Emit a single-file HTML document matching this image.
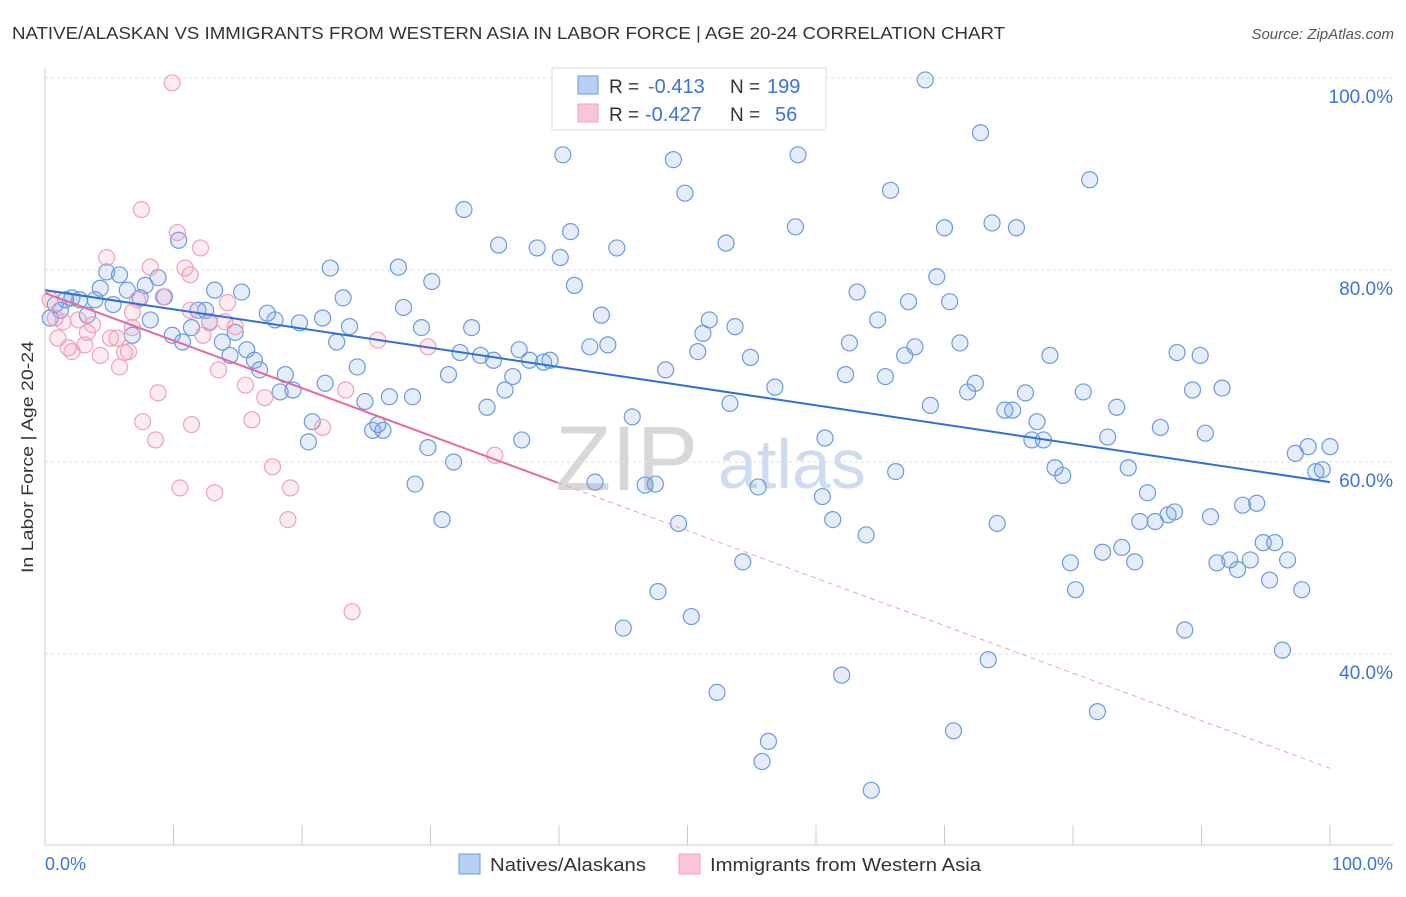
<!DOCTYPE html>
<html><head><meta charset="utf-8">
<style>
body{margin:0;background:#fff;font-family:"Liberation Sans",sans-serif;}
svg text{font-family:"Liberation Sans",sans-serif;}
</style></head>
<body>
<svg id="chart" width="1406" height="892" xmlns="http://www.w3.org/2000/svg">
<text x="12" y="39" font-size="17.5" fill="#333" textLength="993" lengthAdjust="spacingAndGlyphs">NATIVE/ALASKAN VS IMMIGRANTS FROM WESTERN ASIA IN LABOR FORCE | AGE 20-24 CORRELATION CHART</text>
<text x="1394" y="39" font-size="15" fill="#555" text-anchor="end" font-style="italic">Source: ZipAtlas.com</text>
<g>
<text x="555" y="490" font-size="92" font-family="Liberation Serif" fill="#d8d8d8" >ZIP</text>
<text x="718" y="488" font-size="70" fill="#cfdcf0">atlas</text>
</g>
<g id="grid"></g>
<line x1="45" y1="68" x2="45" y2="845" stroke="#ccc"/>
<line x1="45" y1="845" x2="1393" y2="845" stroke="#ccc"/>
<g id="ticks"></g>
<text transform="translate(33,457) rotate(-90)" font-size="17" fill="#333" text-anchor="middle" textLength="232" lengthAdjust="spacingAndGlyphs">In Labor Force | Age 20-24</text>
<text x="45" y="870" font-size="18" fill="#3b74d6">0.0%</text>
<text x="1393" y="870" font-size="18" fill="#3b74d6" text-anchor="end">100.0%</text>
<g id="pts"></g>
<g id="fits"></g>
<g>
<rect x="552" y="68" width="274" height="62" fill="#fff" stroke="#ddd"/>
<rect x="578" y="76" width="20" height="18" fill="#b8d0f4" stroke="#6a9be0"/>
<rect x="578" y="104" width="20" height="18" fill="#f8c6d6" stroke="#f0a0bc"/>
<text x="609" y="93" font-size="19" fill="#333">R =</text>
<text x="648" y="93" font-size="20" fill="#3b74d6">-0.413</text>
<text x="730" y="93" font-size="19" fill="#333">N =</text>
<text x="767" y="93" font-size="20" fill="#3b74d6">199</text>
<text x="609" y="121" font-size="19" fill="#333">R =</text>
<text x="645" y="121" font-size="20" fill="#3b74d6">-0.427</text>
<text x="730" y="121" font-size="19" fill="#333">N =</text>
<text x="775" y="121" font-size="20" fill="#3b74d6">56</text>
</g>
<g>
<rect x="459" y="854" width="21" height="20" fill="#b8d0f4" stroke="#6a9be0"/>
<text x="490" y="871" font-size="18" fill="#333" textLength="156" lengthAdjust="spacingAndGlyphs">Natives/Alaskans</text>
</g>
<g>
<rect x="679" y="854" width="21" height="20" fill="#f8c6d6" stroke="#f0a0bc"/>
<text x="710" y="871" font-size="18" fill="#333" textLength="271" lengthAdjust="spacingAndGlyphs">Immigrants from Western Asia</text>
</g>
</svg>
<script>
const yTicks=[100,80,60,40];
const yTickLabels=["100.0%","80.0%","60.0%","40.0%"];
const xTicks=[0,10,20,30,40,50,60,70,80,90,100];
const blueX=[0.4,0.8,1.2,1.6,2.1,2.7,3.3,3.9,4.3,4.8,5.3,5.8,6.4,6.8,7.4,7.8,8.2,8.8,9.3,9.9,10.4,10.7,11.4,11.9,12.5,12.8,13.2,13.8,14.4,14.8,15.3,15.7,16.3,16.7,17.3,17.9,18.3,18.7,19.3,19.8,20.5,20.8,21.6,21.8,22.2,22.7,23.2,23.7,24.3,24.9,25.5,25.9,26.3,26.8,27.5,27.9,28.6,28.8,29.3,29.8,30.1,30.9,31.4,31.8,32.3,32.6,33.2,33.9,34.4,34.9,35.3,35.8,36.4,36.9,37.1,37.7,38.3,38.8,39.3,40.1,40.3,40.9,41.2,42.4,42.8,43.3,43.8,44.5,45.0,45.4,45.7,46.3,46.7,47.5,47.7,48.3,48.9,49.3,49.8,50.3,50.8,51.2,51.7,52.3,53.0,53.3,53.7,54.3,54.9,55.5,55.8,56.3,56.8,58.4,58.6,60.5,60.7,61.3,62.0,62.3,62.6,63.2,63.9,64.3,64.8,65.4,65.8,66.2,66.9,67.2,67.7,68.5,68.9,69.4,70.0,70.4,70.7,71.2,71.8,72.4,72.8,73.4,73.7,74.1,74.7,75.3,75.6,76.3,76.8,77.2,77.7,78.2,78.6,79.2,79.8,80.2,80.8,81.3,81.9,82.3,82.7,83.4,83.8,84.3,84.8,85.2,85.8,86.4,86.8,87.4,87.9,88.1,88.7,89.3,89.9,90.3,90.7,91.2,91.6,92.2,92.8,93.2,93.8,94.3,94.8,95.3,95.7,96.3,96.7,97.3,97.8,98.3,98.9,99.4,100,59.9,57.7];
const blueY=[75.0,76.4,75.8,76.9,77.1,76.9,75.3,76.9,78.1,79.8,76.4,79.5,77.9,73.2,77.1,78.4,74.8,79.2,77.2,73.2,83.1,72.5,74.0,75.8,75.8,74.6,77.9,72.5,71.1,73.5,77.7,71.7,70.6,69.6,75.5,74.8,67.3,69.1,67.5,74.5,62.1,64.2,75.0,68.2,80.2,72.5,77.1,74.1,69.9,66.3,63.3,63.9,63.3,66.8,80.3,76.1,66.8,57.7,74.0,61.5,78.8,54.0,69.1,60.0,71.4,86.3,74.0,71.1,65.7,70.6,82.6,67.5,68.9,71.7,62.3,70.6,82.3,70.4,70.6,81.3,92.0,84.0,78.4,72.0,57.9,75.3,72.2,82.3,42.7,97.2,64.7,96.1,57.6,57.7,46.5,69.6,91.5,53.6,88.0,43.9,71.5,73.4,74.8,36.0,82.8,66.1,74.1,49.6,70.9,57.4,28.8,30.9,67.8,84.5,92.0,56.4,62.5,54.0,37.8,69.1,72.4,77.7,52.4,25.8,74.8,68.9,88.3,59.0,71.1,76.7,72.0,99.8,65.9,79.3,84.4,76.7,32.0,72.4,67.3,68.2,94.3,39.4,84.9,53.6,65.4,65.4,84.4,67.2,62.3,64.2,62.3,71.1,59.4,58.6,49.5,46.7,67.3,89.4,34.0,50.6,62.6,65.7,51.1,59.4,49.6,53.8,56.8,53.8,63.6,54.5,54.8,71.4,42.5,67.5,71.1,63.0,54.3,49.5,67.7,49.8,48.8,55.5,49.8,55.7,51.6,47.7,51.6,40.4,49.8,60.9,46.7,61.6,59.0,59.2,61.6,99.8,99.3];
const pinkX=[0.4,0.8,1.0,1.4,1.8,2.1,2.6,3.3,3.7,4.3,4.8,5.1,5.6,5.8,6.2,6.5,6.8,7.2,7.5,7.6,8.2,8.6,8.8,9.2,9.9,10.3,10.5,10.9,11.3,11.4,12.1,12.3,12.8,13.2,13.5,14.0,14.2,14.8,15.6,16.1,17.1,17.7,19.1,18.9,21.6,23.4,23.9,25.9,29.8,35.0,6.8,11.3,3.1];
const pinkY=[76.9,75.0,72.9,74.6,71.9,71.5,74.8,73.5,74.3,71.1,81.3,72.9,72.9,69.9,71.4,71.5,74.0,76.9,86.3,64.2,80.3,62.3,67.2,77.2,99.5,83.9,57.3,80.2,79.5,63.9,82.3,73.2,74.5,56.8,69.6,74.6,76.6,74.1,68.0,64.4,66.7,59.5,57.3,54.0,63.6,67.5,44.4,72.7,72.0,60.7,75.6,75.8,72.2];
const blueFit=[77.9,57.9];
const pinkFit=[77.6,-0.495];
const pinkSolidEnd=39.9;
const NS="http://www.w3.org/2000/svg";
const X=v=>45+v*12.85;
const Y=v=>78+(100-v)*9.6;
function mk(tag,attrs,parent){const e=document.createElementNS(NS,tag);for(const k in attrs)e.setAttribute(k,attrs[k]);parent.appendChild(e);return e;}
const grid=document.getElementById('grid');
yTicks.forEach((t,i)=>{
 const l=mk('line',{x1:45,x2:1393,y1:Y(t),y2:Y(t),stroke:'#ddd','stroke-dasharray':'3,3'},grid);
 
 
 const tx=mk('text',{x:1393,y:Y(t)+25,'font-size':19,fill:'#3b74d6','text-anchor':'end'},grid);
 tx.textContent=yTickLabels[i];
 
 
});
const ticks=document.getElementById('ticks');
xTicks.forEach(t=>{
 const l=mk('line',{x1:X(t),x2:X(t),y1:825,y2:845,stroke:'#ccc'},ticks);
 
 
});
const pts=document.getElementById('pts');
blueX.forEach((x,i)=>{
 const c=mk('circle',{cx:X(x),cy:Y(blueY[i]),r:8,fill:'rgba(110,155,230,0.18)',stroke:'#6a9be0','stroke-width':1.2},pts);
 
 
});
pinkX.forEach((x,i)=>{
 const c=mk('circle',{cx:X(x),cy:Y(pinkY[i]),r:8,fill:'rgba(240,150,180,0.18)',stroke:'#f0a0bc','stroke-width':1.2},pts);
 
 
});
const fits=document.getElementById('fits');
const bl=mk('line',{x1:X(0),y1:Y(blueFit[0]),x2:X(100),y2:Y(blueFit[1]),stroke:'#2f6fd6','stroke-width':2},fits);


const pe=pinkFit[0]+pinkFit[1]*pinkSolidEnd;
const pl=mk('line',{x1:X(0),y1:Y(pinkFit[0]),x2:X(pinkSolidEnd),y2:Y(pe),stroke:'#e8689a','stroke-width':2},fits);


const pd=mk('line',{x1:X(pinkSolidEnd),y1:Y(pe),x2:X(100),y2:Y(pinkFit[0]+pinkFit[1]*100),stroke:'#f0a0bc','stroke-width':1,'stroke-dasharray':'5,4'},fits);


</script>
</body></html>
